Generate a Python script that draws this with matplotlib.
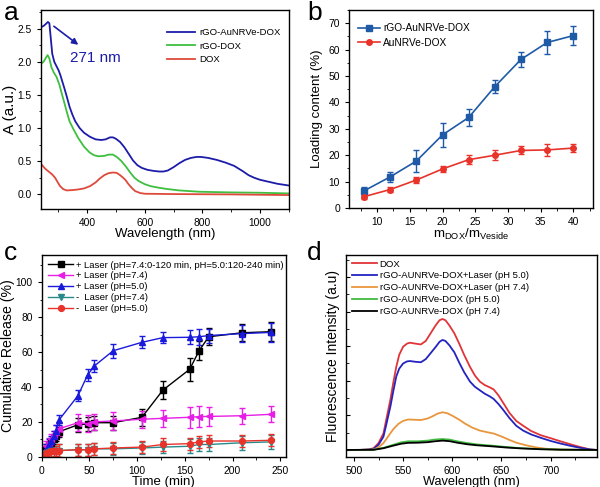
import matplotlib
matplotlib.use("Agg")
import matplotlib.pyplot as plt
from matplotlib.ticker import MultipleLocator, NullFormatter
from matplotlib.lines import Line2D

plt.rcParams['font.family'] = ['Liberation Sans', 'DejaVu Sans']
plt.rcParams['axes.linewidth'] = 1.0
plt.rcParams['xtick.direction'] = 'out'
plt.rcParams['ytick.direction'] = 'out'
plt.rcParams['xtick.major.size'] = 3
plt.rcParams['ytick.major.size'] = 3
plt.rcParams['xtick.minor.size'] = 1.8
plt.rcParams['ytick.minor.size'] = 1.8
plt.rcParams['xtick.labelsize'] = 7.4
plt.rcParams['ytick.labelsize'] = 7.4

# ---------------- Panel a: UV-vis absorbance ----------------
a_blue_wl = [241, 250, 258, 265, 270, 275, 280, 287, 295, 302, 308, 315, 322, 330, 340, 350, 360,
             375, 390, 410, 430, 450, 465, 480, 490, 500, 515, 530, 545, 560, 575, 590, 610, 630,
             650, 665, 680, 700, 720, 740, 760, 780, 795, 820, 850, 880, 910, 940, 960, 980, 1000,
             1030, 1060, 1098]
a_blue_A = [2.52, 2.54, 2.57, 2.60, 2.58, 2.35, 2.12, 2.00, 1.93, 1.87, 1.80, 1.70, 1.60, 1.48,
            1.32, 1.20, 1.10, 1.00, 0.93, 0.87, 0.83, 0.82, 0.83, 0.86, 0.86, 0.84, 0.79, 0.71,
            0.61, 0.51, 0.44, 0.40, 0.37, 0.355, 0.345, 0.345, 0.36, 0.41, 0.47, 0.52, 0.55,
            0.565, 0.565, 0.55, 0.52, 0.48, 0.43, 0.35, 0.29, 0.25, 0.22, 0.19, 0.16, 0.135]
a_green_wl = [241, 250, 258, 264, 270, 277, 285, 295, 305, 313, 322, 330, 340, 355, 370, 390, 410,
              425, 440, 460, 475, 490, 505, 520, 535, 550, 565, 580, 600, 620, 650, 680, 720, 790,
              900, 1000, 1098]
a_green_A = [1.97, 2.00, 2.06, 2.10, 2.05, 1.92, 1.84, 1.77, 1.65, 1.52, 1.38, 1.25, 1.10, 0.97,
             0.85, 0.72, 0.63, 0.59, 0.575, 0.58, 0.60, 0.60, 0.56, 0.50, 0.42, 0.33, 0.25, 0.20,
             0.155, 0.125, 0.10, 0.08, 0.06, 0.04, 0.03, 0.025, 0.015]
a_red_wl = [241, 255, 266, 280, 290, 298, 307, 318, 330, 350, 370, 390, 411, 430, 445, 460, 475,
            490, 503, 515, 526, 535, 543, 555, 567, 585, 601, 700, 900, 1098]
a_red_A = [0.46, 0.39, 0.35, 0.30, 0.25, 0.19, 0.125, 0.08, 0.06, 0.065, 0.075, 0.09, 0.125, 0.18,
           0.24, 0.29, 0.32, 0.33, 0.325, 0.29, 0.25, 0.21, 0.16, 0.10, 0.05, 0.02, 0.01, 0.005,
           0.0, -0.01]
a_labels = ['rGO-AuNRVe-DOX', 'rGO-DOX', 'DOX']

# ---------------- Panel b: loading content ----------------
b_ratio = [8, 12, 16, 20, 24, 28, 32, 36, 40]
b_rgo = [6.5, 11.8, 17.8, 27.7, 34.3, 46.0, 56.3, 62.7, 65.3]
b_rgo_err = [1.5, 2.0, 4.0, 4.5, 3.3, 2.5, 2.8, 4.2, 3.6]
b_au = [4.3, 7.0, 10.6, 14.8, 18.3, 20.0, 21.8, 22.0, 22.7]
b_au_err = [1.0, 1.0, 1.2, 1.2, 1.8, 2.0, 1.5, 2.2, 1.6]
b_labels = ['rGO-AuNRVe-DOX', 'AuNRVe-DOX']

# ---------------- Panel c: cumulative release ----------------
c_time = [0, 3, 5, 8, 10, 13, 15, 18, 38, 48, 55, 75, 105, 127, 155, 165, 175, 210, 240]
c_black = [0, 2, 4, 6, 8, 10, 12, 14.3, 18.3, 18.8, 19.5, 19.5, 22.6, 38.2, 50.1, 60.8, 68.8, 71.1, 71.7]
c_black_err = [2, 3, 3, 3, 3, 3, 3, 3, 4, 4, 4, 4, 5, 5, 6.5, 5.5, 5, 5, 5.5]
c_magenta = [0, 3, 6, 8, 10, 12, 14, 16, 19.5, 19, 20, 20.5, 21.5, 22, 22.6, 23, 23.1, 23.5, 24.3]
c_magenta_err = [2, 3, 3, 3, 3, 3, 4, 4, 5, 5, 4.5, 5, 5, 5, 6, 6, 5.5, 4.5, 4.5]
c_blue = [0, 2, 4, 7, 9, 12, 15, 21, 35, 46.8, 52, 60.8, 65.6, 68.3, 68.5, 68.8, 69.5, 70.6, 71.3]
c_blue_err = [2, 3, 3, 3, 3, 3, 3, 3, 3, 3.5, 3.5, 4, 3.5, 3, 4, 4.5, 4, 5, 5.5]
c_teal = [0, 1, 2, 2.5, 3, 3, 3.2, 3.5, 4, 4, 4.5, 4.5, 5, 5.5, 6, 7, 7, 8, 8.5]
c_teal_err = [1.5, 2, 2, 2.5, 3, 3, 3, 3.5, 3.5, 3.5, 3.5, 3.5, 3.5, 3.5, 4, 4, 4, 4, 4]
c_red = [0, 1, 2, 2.5, 3, 3, 3.2, 3.5, 4, 4, 4.5, 5, 5.5, 7, 7.5, 8.5, 9, 9, 9.4]
c_red_err = [1.5, 2, 2, 2.5, 3, 3, 3, 3.5, 3.5, 3.5, 3.5, 3.5, 3.5, 3.5, 3.5, 3.5, 3.5, 3.5, 3.5]
c_labels = ['+ Laser (pH=7.4:0-120 min, pH=5.0:120-240 min)', '+ Laser (pH=7.4)',
            '+ Laser (pH=5.0)', '-  Laser (pH=7.4)', '-  Laser (pH=5.0)']

# ---------------- Panel d: fluorescence ----------------
d_dox_wl = [492, 505, 515, 520, 525, 530, 533, 537, 540, 543, 546, 550, 554, 557, 562, 568, 573,
            578, 583, 587, 590, 593, 597, 602, 607, 612, 618, 623, 628, 633, 638, 642, 647, 652,
            658, 665, 672, 680, 690, 700, 710, 720, 730, 740, 747]
d_dox = [0, 0, 0.03, 0.1, 0.4, 0.96, 1.8, 2.9, 3.9, 4.8, 5.5, 5.97, 6.15, 6.2, 6.15, 6.1, 6.3,
         6.75, 7.2, 7.5, 7.57, 7.5, 7.2, 6.75, 6.15, 5.5, 4.8, 4.3, 3.95, 3.75, 3.62, 3.5, 3.15,
         2.7, 2.15, 1.68, 1.4, 1.1, 0.85, 0.68, 0.5, 0.33, 0.17, 0.03, 0]
d_l50 = [0, 0, 0.02, 0.07, 0.3, 0.77, 1.5, 2.5, 3.4, 4.24, 4.7, 5.0, 5.12, 5.14, 5.1, 5.07, 5.25,
         5.6, 5.95, 6.25, 6.36, 6.3, 6.05, 5.65, 5.05, 4.5, 3.95, 3.65, 3.45, 3.25, 3.1, 2.95,
         2.65, 2.3, 1.85, 1.4, 1.12, 0.9, 0.7, 0.52, 0.37, 0.24, 0.12, 0.03, 0]
d_l74_wl = [492, 515, 520, 525, 530, 535, 540, 545, 550, 555, 560, 568, 575, 580, 585, 590, 595,
            600, 607, 613, 620, 628, 635, 642, 650, 658, 665, 675, 685, 695, 710, 747]
d_l74 = [0, 0, 0.03, 0.15, 0.4, 0.8, 1.2, 1.5, 1.68, 1.76, 1.75, 1.73, 1.82, 1.95, 2.1, 2.18,
         2.12, 1.98, 1.75, 1.52, 1.3, 1.12, 1.03, 0.95, 0.78, 0.58, 0.42, 0.27, 0.15, 0.07, 0.02, 0]
d_low_wl = [492, 520, 530, 540, 548, 555, 565, 575, 582, 590, 597, 605, 615, 625, 640, 655, 670,
            690, 710, 747]
d_n50 = [0, 0.01, 0.12, 0.3, 0.44, 0.5, 0.5, 0.54, 0.6, 0.63, 0.6, 0.5, 0.4, 0.32, 0.25, 0.17,
         0.1, 0.05, 0.02, 0]
d_n74 = [0, 0.01, 0.1, 0.25, 0.36, 0.41, 0.42, 0.45, 0.5, 0.54, 0.51, 0.42, 0.33, 0.27, 0.21,
         0.14, 0.09, 0.04, 0.015, 0]
d_labels = ['DOX', 'rGO-AUNRVe-DOX+Laser (pH 5.0)', 'rGO-AUNRVe-DOX+Laser (pH 7.4)',
            'rGO-AUNRVe-DOX (pH 5.0)', 'rGO-AUNRVe-DOX (pH 7.4)']

W, H = 600, 487
fig = plt.figure(figsize=(W / 100, H / 100), dpi=100)


def rect(l, r, t, b):
    return [l / W, 1 - b / H, (r - l) / W, (b - t) / H]


axa = fig.add_axes(rect(40.7, 289, 10, 209))
axb = fig.add_axes(rect(349, 593, 10, 208))
axc = fig.add_axes(rect(41.7, 286, 255, 456.7))
axd = fig.add_axes(rect(345.7, 596.7, 255, 456.7))

# ---- a ----
axa.plot(a_blue_wl, a_blue_A, color='#1c1ca8', lw=1.3, label=a_labels[0])
axa.plot(a_green_wl, a_green_A, color='#3fbf3f', lw=1.3, label=a_labels[1])
axa.plot(a_red_wl, a_red_A, color='#dd4a3c', lw=1.3, label=a_labels[2])
axa.set_xlim(240, 1100)
axa.set_ylim(-0.22, 2.78)
axa.xaxis.set_minor_locator(MultipleLocator(100))
axa.yaxis.set_major_locator(MultipleLocator(0.5))
axa.yaxis.set_minor_locator(MultipleLocator(0.25))
axa.set_xticks([400, 600, 800, 1000])
axa.set_xlabel('Wavelength (nm)', fontsize=9.5, labelpad=0)
axa.set_ylabel('A (a.u.)', fontsize=11)
axa.yaxis.set_label_coords(-0.095, 0.5)
axa.legend(loc='upper right', bbox_to_anchor=(1.0, 0.95), frameon=False, fontsize=6.8,
           handlelength=3.0, handletextpad=0.4, labelspacing=0.45)
axa.annotate('', xy=(378, 2.23), xytext=(278, 2.56),
             arrowprops=dict(arrowstyle='-|>', color='#1c1ca8', lw=1.2, mutation_scale=9))
axa.text(340, 2.05, '271 nm', color='#1c1ca8', fontsize=11, ha='left', va='center')

# ---- b ----
axb.errorbar(b_ratio, b_rgo, yerr=b_rgo_err, color='#1f5aa6', marker='s', ms=4, lw=1.2,
             capsize=2.5, elinewidth=1, label=b_labels[0])
axb.errorbar(b_ratio, b_au, yerr=b_au_err, color='#e8332b', marker='o', ms=4, lw=1.2,
             capsize=2.5, elinewidth=1, label=b_labels[1])
axb.set_xlim(5.7, 43)
axb.set_ylim(0, 75)
axb.xaxis.set_minor_locator(MultipleLocator(2.5))
axb.yaxis.set_major_locator(MultipleLocator(10))
axb.yaxis.set_minor_locator(MultipleLocator(5))
axb.set_xticks([10, 15, 20, 25, 30, 35, 40])
axb.set_xlabel(r'm$_{\mathregular{DOX}}$/m$_{\mathregular{Veside}}$', fontsize=9.5, labelpad=0)
axb.set_ylabel('Loading content (%)', fontsize=9.5)
axb.yaxis.set_label_coords(-0.107, 0.5)
hb = [Line2D([], [], color='#1f5aa6', marker='s', ms=4, lw=1.2),
      Line2D([], [], color='#e8332b', marker='o', ms=4, lw=1.2)]
axb.legend(hb, b_labels, loc='upper left', bbox_to_anchor=(0.0, 0.98), frameon=False,
           fontsize=7.3, handlelength=2.2, handletextpad=0.3, labelspacing=0.45)

# ---- c ----
series_c = [
    (c_black, c_black_err, 'black', 's'),
    (c_magenta, c_magenta_err, '#e61ee6', '<'),
    (c_blue, c_blue_err, '#1a1adc', '^'),
    (c_teal, c_teal_err, '#2a8a8a', 'v'),
    (c_red, c_red_err, '#e8332b', 'o'),
]
handles = []
for (vals, errs, col, mk), lab in zip(series_c, c_labels):
    axc.errorbar(c_time, vals, yerr=errs, color=col, marker=mk, ms=4.2, lw=1.0,
                 capsize=2.5, elinewidth=1)
    handles.append(Line2D([], [], color=col, marker=mk, ms=4.2, lw=1.0))
axc.set_xlim(0, 256)
axc.set_ylim(0, 115.7)
axc.xaxis.set_major_locator(MultipleLocator(50))
axc.xaxis.set_minor_locator(MultipleLocator(25))
axc.yaxis.set_minor_locator(MultipleLocator(10))
axc.set_yticks([0, 20, 40, 60, 80, 100])
axc.set_xlabel('Time (min)', fontsize=9.5, labelpad=0)
axc.set_ylabel('Cumulative Release (%)', fontsize=10.2)
axc.yaxis.set_label_coords(-0.11, 0.5)
axc.legend(handles, c_labels, loc='upper left', bbox_to_anchor=(0.0, 1.005), frameon=False,
           fontsize=6.8, handlelength=2.6, handletextpad=0.3, labelspacing=0.2,
           borderaxespad=0.3)

# ---- d ----
axd.plot(d_dox_wl, d_dox, color='#e03438', lw=1.3, label=d_labels[0])
axd.plot(d_dox_wl, d_l50, color='#2323c0', lw=1.3, label=d_labels[1])
axd.plot(d_l74_wl, d_l74, color='#e8963c', lw=1.3, label=d_labels[2])
axd.plot(d_low_wl, d_n50, color='#40bb40', lw=1.3, label=d_labels[3])
axd.plot(d_low_wl, d_n74, color='black', lw=1.3, label=d_labels[4])
axd.set_xlim(491.6, 746.8)
axd.set_ylim(-0.39, 11.27)
axd.xaxis.set_minor_locator(MultipleLocator(25))
axd.set_xticks([500, 550, 600, 650, 700])
axd.yaxis.set_major_locator(MultipleLocator(2))
axd.yaxis.set_minor_locator(MultipleLocator(1))
axd.yaxis.set_major_formatter(NullFormatter())
axd.tick_params(axis='y', which='both', direction='in')
axd.set_xlabel('Wavelength (nm)', fontsize=9.2, labelpad=0)
axd.set_ylabel('Fluorescence Intensity (a.u)', fontsize=10)
axd.yaxis.set_label_coords(-0.023, 0.5)
axd.legend(loc='upper left', bbox_to_anchor=(0.0, 1.01), frameon=False, fontsize=6.8,
           handlelength=2.6, handletextpad=0.3, labelspacing=0.3, borderaxespad=0.3)

# panel letters
fig.text(4 / W, 1 - 20 / H, 'a', fontsize=19)
fig.text(307 / W, 1 - 20 / H, 'b', fontsize=19)
fig.text(4 / W, 1 - 260 / H, 'c', fontsize=19)
fig.text(307 / W, 1 - 260 / H, 'd', fontsize=19)

fig.savefig('out.png', dpi=100)
